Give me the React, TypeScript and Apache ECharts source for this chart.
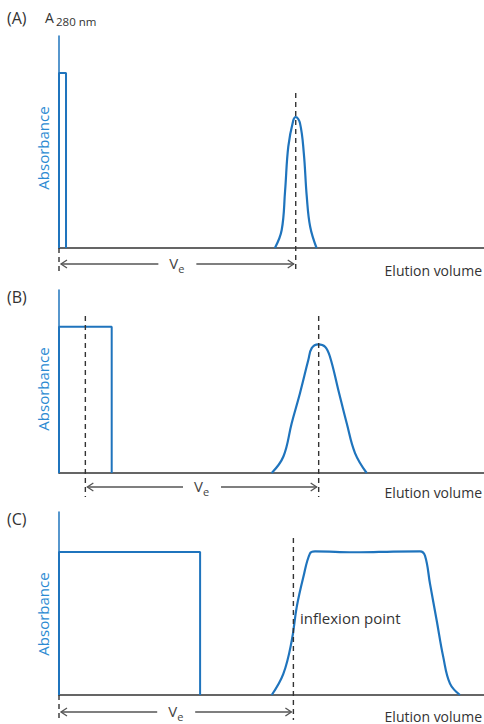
import React, { useEffect, useRef } from 'react';
import * as echarts from 'echarts';

const panelLabels = ['(A)', '(B)', '(C)'];
const yTitle = 'Absorbance';
const xTitle = 'Elution volume';
const wavelengthMain = 'A';
const wavelengthSub = '280 nm';
const veMain = 'V';
const veSub = 'e';
const inflexionLabel = 'inflexion point';

// sample zones (volume, absorbance)
const sampleA = [[0, 0], [0, 82.5], [1.65, 82.5], [1.65, 0]];
const sampleB = [[0, 0], [0, 79.9], [12.4, 79.9], [12.4, 0]];
const sampleC = [[0, 0], [0, 78.2], [33.2, 78.2], [33.2, 0]];

// eluted peaks (volume, absorbance)
const peakA = [
  [50.8, 0], [52.4, 8.5], [53.2, 27.0], [53.95, 47.8], [55.1, 60.0], [55.7, 61.8],
  [56.7, 58.9], [57.6, 44.8], [58.3, 24.2], [59.1, 10.0], [60.6, 0],
];
const peakB = [
  [50.05, 0], [52.8, 9.0], [54.75, 27.2], [56.7, 43.6], [58.66, 61.7], [59.46, 68.2],
  [61.0, 70.3], [62.6, 69.0], [63.76, 63.5], [65.72, 45.4], [67.7, 27.2], [69.65, 10.9], [72.4, 0],
];
const peakC = [
  [50.05, 0], [52.78, 11.5], [54.75, 29.5], [55.93, 48.0], [57.48, 64.3], [59.06, 77.4],
  [60.24, 78.5], [66.1, 78.1], [70.8, 78.0], [78.66, 78.4], [84.94, 78.5], [86.12, 76.1],
  [87.3, 60.7], [88.87, 40.7], [90.42, 20.7], [92.0, 6.2], [94.35, 0],
];

// [start volume, elution volume] for the Ve arrows
const veA = [0, 55.7];
const veB = [6.2, 61.1];
const veC = [0, 55.15];
// top of the dashed marker line at Ve (absorbance units)
const markTop = [73.1, 85.8, 85.8];

const BLUE = '#1f74bd';
const TEXTBLUE = '#2b8ad2';
const DARK = '#333333';
const FONT = '"Open Sans", "Noto Sans", sans-serif';

const grids = [
  { left: 59, top: 36, width: 425, height: 212 },
  { left: 59, top: 290, width: 425, height: 183 },
  { left: 59, top: 512, width: 425, height: 183 },
];

export default function App() {
  const ref = useRef<HTMLDivElement>(null);
  useEffect(() => {
    if (!ref.current) return;
    const chart = echarts.init(ref.current, undefined, { renderer: 'svg' });
    const samples = [sampleA, sampleB, sampleC];
    const peaks = [peakA, peakB, peakC];
    const ves = [veA, veB, veC];

    const xAxis = grids.map((_, i) => ({
      type: 'value', gridIndex: i, min: 0, max: 100,
      axisLine: { show: true, onZero: false, lineStyle: { color: DARK, width: 1.5 } },
      axisTick: { show: false }, axisLabel: { show: false }, splitLine: { show: false },
    }));
    const yAxis = grids.map((_, i) => ({
      type: 'value', gridIndex: i, min: 0, max: 100,
      axisLine: { show: true, lineStyle: { color: BLUE, width: 1.5 } },
      axisTick: { show: false }, axisLabel: { show: false }, splitLine: { show: false },
    }));
    const series: any[] = [];
    grids.forEach((_, i) => {
      series.push({
        type: 'line', xAxisIndex: i, yAxisIndex: i, data: samples[i], symbol: 'none',
        clip: false, lineStyle: { color: BLUE, width: 2 }, z: 3,
      });
      series.push({
        type: 'line', xAxisIndex: i, yAxisIndex: i, data: peaks[i], symbol: 'none',
        smooth: 0.4, clip: true, lineStyle: { color: BLUE, width: 2.2 }, z: 3,
      });
    });

    chart.setOption({
      animation: false,
      grid: grids,
      xAxis, yAxis, series,
    });

    const g: any[] = [];
    const txt = (text: string, x: number, y: number, size: number, fill: string, align = 'left', extra: any = {}) => ({
      type: 'text', x, y, ...extra,
      style: { text, fill, fontSize: size, fontFamily: FONT, align, verticalAlign: 'middle', textAlign: align, textVerticalAlign: 'middle' },
    });
    const belowDash = [24, 24, 25];
    const arrowOff = [16, 14, 17];

    grids.forEach((gr, i) => {
      const px = (x: number, y: number) => chart.convertToPixel({ gridIndex: i }, [x, y]) as number[];
      const base = px(0, 0)[1];
      const [s, e] = ves[i];
      const ps = px(s, 0);
      const pe = px(e, markTop[i]);
      const pTop = i === 0 ? base : px(s, markTop[i])[1];
      const dashStyle = { stroke: DARK, lineWidth: 1.4, lineDash: [5, 4] };
      g.push({ type: 'line', shape: { x1: ps[0], y1: i === 1 ? pTop : base, x2: ps[0], y2: base + belowDash[i] }, style: dashStyle, z: 10 });
      g.push({ type: 'line', shape: { x1: pe[0], y1: pe[1], x2: pe[0], y2: base + belowDash[i] }, style: dashStyle, z: 10 });
      const ay = base + arrowOff[i];
      const x1 = ps[0] + 2;
      const x2 = pe[0] - 2;
      const mid = (x1 + x2) / 2;
      const arrowStyle = { stroke: '#555', lineWidth: 1.3, fill: 'none' };
      g.push({ type: 'line', shape: { x1, y1: ay, x2: mid - 19, y2: ay }, style: arrowStyle, z: 10 });
      g.push({ type: 'line', shape: { x1: mid + 19, y1: ay, x2, y2: ay }, style: arrowStyle, z: 10 });
      g.push({ type: 'polyline', shape: { points: [[x1 + 6, ay - 4], [x1, ay], [x1 + 6, ay + 4]] }, style: arrowStyle, z: 10 });
      g.push({ type: 'polyline', shape: { points: [[x2 - 6, ay - 4], [x2, ay], [x2 - 6, ay + 4]] }, style: arrowStyle, z: 10 });
      g.push(txt(veMain, mid - 8, ay - 1, 15, '#444'));
      g.push(txt(veSub, mid + 1, ay + 4, 11, '#444'));
      g.push(txt(panelLabels[i], 7, i === 0 ? 18 : gr.top + 7, 16, DARK));
      g.push(txt(yTitle, 43, [148, 389, 614][i], 15, TEXTBLUE, 'center', { rotation: Math.PI / 2 }));
      g.push(txt(xTitle, 482, base + [22, 19, 21][i], 14, DARK, 'right'));
    });
    g.push(txt(wavelengthMain, 45, 17, 14, DARK));
    g.push(txt(wavelengthSub, 56, 21, 11.5, DARK));
    g.push(txt(inflexionLabel, 300, 618, 15, DARK));

    chart.setOption({ graphic: g });
    return () => chart.dispose();
  }, []);
  return <div ref={ref} style={{ position: 'fixed', left: 0, top: 0, width: 484, height: 724, background: '#fff' }} />;
}
